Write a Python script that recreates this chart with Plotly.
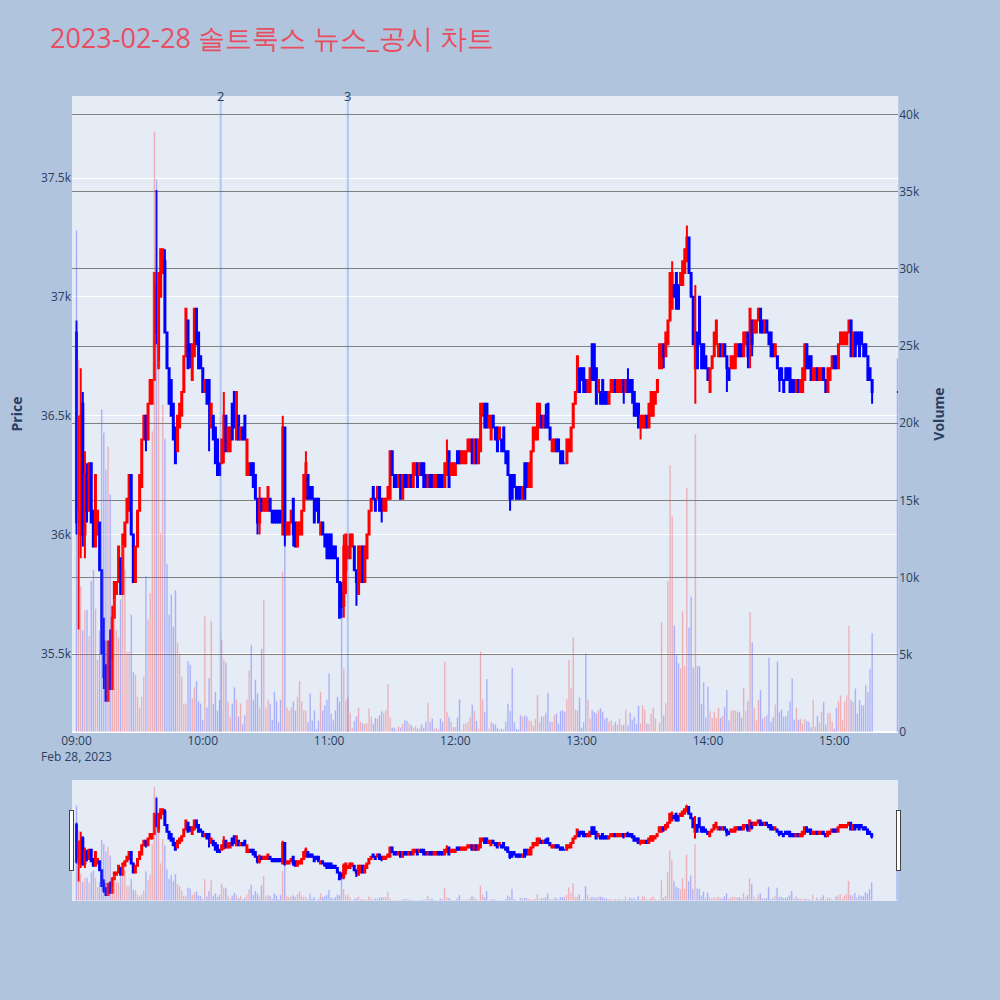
import pandas as pd
import plotly.graph_objects as go
from plotly.subplots import make_subplots

TITLE = "2023-02-28 솔트룩스 뉴스_공시 차트"

open_prices = [
    36850,36050,36000,36550,36000,36250,36100,36300,36100,35950,
    36000,36050,35850,35550,35450,35300,35550,35350,35650,35750,
    35800,35900,35750,35950,36050,36100,36250,36000,35800,35950,
    36100,36200,36400,36500,36400,36550,36550,36650,37050,36700,
    37000,37100,37150,36850,36700,36650,36550,36450,36350,36450,
    36500,36600,36750,36900,36800,36650,36750,36950,36850,36750,
    36700,36600,36650,36650,36450,36500,36450,36400,36300,36300,
    36350,36500,36350,36350,36550,36600,36400,36500,36400,36450,
    36500,36250,36250,36300,36300,36250,36150,36050,36150,36100,
    36100,36100,36150,36100,36100,36100,36100,36100,36000,36450,
    36000,36000,36050,36150,36050,35950,36000,36000,36100,36150,
    36250,36200,36200,36150,36150,36150,36000,36050,36000,36000,
    36000,36000,35950,35950,35900,35800,35750,35700,35850,35900,
    35900,35950,35950,35850,35750,35800,35950,35800,35900,36000,
    36100,36200,36150,36150,36200,36150,36100,36100,36150,36150,
    36350,36250,36250,36200,36250,36150,36250,36250,36200,36250,
    36200,36250,36300,36250,36300,36300,36250,36200,36250,36250,
    36200,36200,36250,36250,36250,36200,36250,36350,36250,36250,
    36250,36350,36350,36300,36300,36300,36350,36350,36400,36300,
    36400,36300,36350,36500,36550,36550,36450,36400,36500,36450,
    36450,36400,36400,36450,36350,36350,36250,36250,36250,36200,
    36200,36200,36150,36300,36300,36200,36200,36350,36400,36400,
    36450,36500,36450,36500,36550,36450,36350,36350,36400,36400,
    36350,36350,36300,36300,36350,36350,36450,36550,36600,36700,
    36700,36700,36650,36600,36600,36800,36800,36700,36600,36600,
    36650,36600,36600,36550,36600,36600,36650,36600,36600,36600,
    36650,36600,36650,36650,36650,36600,36550,36550,36450,36450,
    36450,36500,36450,36500,36500,36550,36600,36700,36700,36800,
    36750,36800,36900,36950,37050,37100,37050,37050,37050,37100,
    37150,37250,37100,37000,36700,36850,37000,36800,36800,36750,
    36700,36600,36700,36750,36800,36750,36800,36750,36800,36750,
    36700,36700,36700,36700,36750,36800,36800,36750,36800,36850,
    36850,36900,36850,36850,36900,36950,36900,36850,36900,36850,
    36850,36800,36750,36750,36700,36700,36650,36700,36700,36700,
    36650,36650,36600,36650,36600,36600,36650,36800,36750,36750,
    36650,36650,36700,36650,36650,36700,36650,36600,36650,36700,
    36750,36750,36700,36800,36800,36800,36800,36850,36900,36750,
    36850,36850,36850,36850,36800,36800,36750,36700,36650,
    36600,
]

high_prices = [
    36900,36500,36700,36600,36350,36300,36300,36300,36100,36250,
    36100,36050,35850,35650,35450,35550,35600,35700,35800,35800,
    35950,35900,36000,36050,36150,36250,36250,36000,35950,36100,
    36250,36400,36500,36500,36550,36650,36650,37100,37450,37100,
    37200,37200,37200,36850,36700,36650,36550,36450,36500,36550,
    36600,36750,36950,36900,36800,36800,36950,36950,36850,36750,
    36700,36650,36650,36650,36550,36500,36450,36400,36300,36400,
    36600,36500,36450,36450,36550,36600,36600,36500,36450,36450,
    36500,36400,36300,36300,36300,36250,36150,36200,36150,36150,
    36150,36200,36150,36100,36100,36100,36100,36100,36500,36450,
    36050,36050,36100,36150,36050,36050,36050,36100,36250,36350,
    36250,36200,36200,36150,36150,36150,36050,36050,36000,36000,
    36000,36000,35950,35950,35900,35800,35800,36000,36000,35950,
    36000,36000,35950,35850,35950,35950,35950,35950,36000,36100,
    36150,36200,36150,36200,36200,36150,36150,36150,36200,36350,
    36350,36250,36250,36250,36250,36250,36250,36250,36250,36250,
    36300,36300,36300,36300,36300,36300,36250,36250,36250,36250,
    36250,36250,36250,36250,36250,36300,36400,36350,36300,36300,
    36300,36350,36350,36350,36350,36350,36400,36400,36400,36400,
    36400,36400,36550,36550,36550,36550,36500,36500,36500,36450,
    36450,36450,36400,36450,36350,36350,36250,36250,36250,36200,
    36200,36200,36200,36300,36300,36300,36350,36450,36450,36550,
    36550,36500,36500,36550,36550,36450,36400,36400,36400,36400,
    36350,36350,36300,36400,36400,36450,36550,36600,36750,36700,
    36700,36700,36650,36650,36700,36800,36800,36700,36650,36600,
    36650,36600,36600,36600,36650,36650,36650,36650,36650,36650,
    36650,36650,36700,36650,36650,36600,36550,36550,36500,36500,
    36500,36500,36550,36600,36600,36600,36650,36800,36800,36800,
    36850,36900,37100,37150,37050,37100,37050,37100,37150,37200,
    37300,37250,37100,37000,37050,36850,37000,36800,36800,36750,
    36700,36700,36750,36850,36900,36800,36800,36800,36800,36750,
    36700,36750,36750,36800,36800,36800,36800,36850,36850,36850,
    36950,36900,36900,36900,36950,36950,36900,36900,36900,36850,
    36850,36800,36800,36750,36700,36700,36650,36700,36700,36700,
    36650,36650,36650,36650,36650,36700,36800,36800,36750,36750,
    36700,36700,36700,36700,36700,36700,36650,36700,36700,36750,
    36750,36750,36800,36850,36850,36850,36850,36900,36900,36850,
    36850,36850,36850,36850,36800,36800,36750,36700,36650,
    36600,
]

low_prices = [
    36000,35600,35900,35950,35900,36050,36100,36050,35950,35950,
    36000,35850,35500,35350,35300,35300,35350,35350,35650,35750,
    35800,35750,35750,35950,36050,36100,36000,35800,35800,35950,
    36100,36200,36400,36350,36400,36550,36550,36650,36800,36700,
    37000,37100,36850,36700,36550,36500,36400,36300,36350,36450,
    36500,36600,36750,36700,36700,36650,36750,36800,36700,36700,
    36600,36600,36550,36350,36450,36400,36300,36250,36250,36300,
    36300,36350,36350,36350,36400,36450,36400,36400,36400,36400,
    36400,36250,36250,36250,36200,36150,36000,36000,36100,36100,
    36100,36100,36100,36050,36050,36050,36050,36050,36000,35950,
    36000,36000,36050,35950,35950,35950,36000,36000,36100,36150,
    36150,36150,36150,36050,36100,36050,36000,36000,35950,35900,
    35900,35900,35900,35900,35800,35650,35650,35650,35750,35900,
    35900,35950,35850,35700,35750,35800,35800,35800,35900,36000,
    36100,36150,36100,36150,36100,36050,36100,36100,36150,36150,
    36250,36200,36200,36200,36150,36150,36200,36200,36200,36200,
    36200,36250,36200,36250,36250,36200,36200,36200,36200,36200,
    36200,36200,36200,36200,36200,36200,36250,36200,36250,36250,
    36250,36300,36300,36300,36300,36300,36350,36350,36300,36300,
    36300,36300,36350,36500,36450,36450,36450,36400,36450,36400,
    36350,36400,36350,36350,36300,36250,36100,36150,36200,36150,
    36150,36150,36150,36150,36200,36200,36200,36350,36400,36400,
    36450,36450,36450,36450,36450,36400,36350,36350,36350,36350,
    36300,36300,36300,36300,36350,36350,36450,36550,36600,36600,
    36650,36600,36600,36600,36600,36650,36650,36550,36600,36550,
    36550,36550,36550,36550,36600,36600,36600,36600,36600,36600,
    36550,36600,36600,36600,36550,36500,36500,36450,36400,36450,
    36450,36450,36450,36500,36500,36550,36600,36700,36700,36700,
    36750,36800,36900,36950,37000,36950,36950,37050,37050,37100,
    37150,37100,37000,36800,36550,36700,36800,36700,36700,36700,
    36650,36600,36700,36750,36800,36750,36750,36750,36750,36600,
    36650,36700,36700,36700,36750,36750,36750,36750,36800,36700,
    36700,36750,36850,36850,36900,36850,36850,36850,36850,36800,
    36750,36750,36750,36700,36600,36650,36600,36650,36650,36600,
    36600,36600,36600,36600,36600,36600,36650,36700,36700,36650,
    36650,36650,36650,36650,36650,36650,36600,36600,36650,36700,
    36700,36700,36700,36800,36800,36800,36800,36850,36750,36750,
    36750,36800,36750,36800,36750,36750,36650,36650,36550,
    36600,
]

close_prices = [
    36050,36100,36500,36000,36250,36100,36300,36050,35950,36250,
    36100,35850,35500,35400,35300,35550,35350,35650,35800,35800,
    35950,35750,36000,36050,36150,36250,36000,35800,35950,36100,
    36250,36400,36500,36400,36550,36650,36650,37100,36850,37100,
    37200,37200,36850,36700,36550,36500,36400,36300,36500,36550,
    36600,36750,36950,36700,36750,36800,36950,36800,36700,36700,
    36600,36650,36550,36550,36550,36400,36300,36250,36250,36400,
    36500,36350,36450,36450,36400,36450,36600,36400,36450,36400,
    36400,36400,36300,36250,36200,36150,36050,36150,36100,36150,
    36150,36200,36100,36050,36050,36050,36050,36050,36450,36000,
    36050,36050,36100,36000,35950,36050,36050,36100,36250,36300,
    36150,36150,36150,36050,36100,36050,36050,36000,35950,35900,
    35900,35900,35900,35900,35800,35650,35700,35950,36000,35950,
    36000,36000,35850,35800,35950,35950,35800,35950,36000,36100,
    36150,36150,36100,36200,36100,36100,36150,36150,36200,36350,
    36250,36200,36200,36250,36150,36250,36200,36200,36250,36200,
    36300,36300,36200,36300,36250,36200,36200,36250,36200,36200,
    36250,36250,36200,36200,36200,36300,36300,36200,36300,36300,
    36300,36300,36300,36350,36350,36350,36400,36400,36300,36400,
    36300,36400,36550,36550,36450,36450,36500,36500,36450,36400,
    36350,36450,36350,36350,36300,36250,36150,36150,36200,36150,
    36150,36150,36200,36150,36200,36300,36350,36450,36450,36550,
    36550,36450,36500,36450,36450,36400,36400,36400,36350,36350,
    36300,36300,36300,36400,36400,36450,36550,36600,36750,36600,
    36650,36600,36600,36650,36700,36650,36650,36550,36650,36550,
    36550,36550,36550,36600,36650,36650,36600,36650,36650,36650,
    36600,36650,36600,36600,36600,36500,36500,36450,36500,36500,
    36500,36450,36550,36600,36600,36600,36650,36800,36800,36750,
    36850,36900,37100,37100,37000,36950,36950,37100,37150,37200,
    37250,37100,37000,36800,36800,36700,36800,36700,36700,36700,
    36650,36700,36750,36850,36900,36800,36750,36800,36750,36700,
    36650,36750,36750,36800,36800,36750,36750,36850,36850,36750,
    36950,36800,36900,36900,36950,36850,36850,36900,36850,36800,
    36750,36750,36800,36700,36650,36650,36600,36650,36650,36600,
    36600,36600,36650,36600,36650,36700,36800,36700,36700,36650,
    36700,36700,36650,36700,36700,36650,36600,36700,36700,36750,
    36700,36700,36800,36850,36850,36850,36850,36900,36750,36850,
    36750,36800,36750,36800,36750,36750,36650,36650,36600,
    36600,
]

volumes = [
    32500,24100,9450,6600,7900,7900,6200,9800,10500,8000,
    4700,6600,20900,19400,17000,18500,15400,4600,8600,6600,
    6100,8600,12100,10500,5200,5200,7600,3900,3700,2300,
    1600,2300,3600,10100,7300,9000,19500,38900,35800,24000,
    12900,21200,19000,10900,7600,8900,6850,9200,5800,5100,
    3600,1850,1850,4600,4350,2200,2900,3300,2000,1850,
    800,7500,1600,3500,7200,1850,2600,1400,2100,6000,
    4700,4500,2000,1000,1850,2900,2100,1000,1850,550,
    1100,2100,4000,5650,2100,3400,2500,1600,5400,8600,
    1600,2100,1850,800,2600,2000,650,2100,10400,12100,
    1600,1400,1600,2000,1400,2300,3300,2000,1400,1400,
    650,2500,760,1400,200,760,2600,1400,1740,2100,
    3800,1200,760,1400,2300,2000,8000,4130,2070,2290,
    1240,290,720,1020,1590,660,550,550,550,1530,
    980,550,920,870,1090,1350,1240,1420,3110,920,
    290,290,110,370,290,550,760,720,550,460,
    290,370,240,240,500,290,680,1890,660,870,
    220,290,160,870,660,4570,1310,980,660,330,
    330,940,2110,110,550,550,660,980,1790,1370,
    720,220,5220,2130,1290,3440,220,660,550,500,
    260,160,220,160,660,1850,1370,4180,660,200,
    160,1090,980,1090,1020,760,720,440,870,2390,
    660,1020,1020,1240,2550,660,660,1090,1200,550,
    1370,1420,1310,2130,4680,2830,6150,1460,1420,2240,
    290,660,5110,2110,870,1420,1310,1200,1420,1530,
    1310,870,940,660,760,440,660,480,870,480,
    480,1460,440,1240,810,980,550,1700,550,1740,
    1480,550,550,1200,1590,870,70,590,7130,1090,
    1890,9780,17300,13980,6910,5000,4460,4130,7830,4280,
    15820,6780,8760,4200,19300,4280,4280,1850,3240,940,
    2940,1350,920,1310,940,1570,920,1050,1630,2720,
    760,1370,1420,1420,1310,1310,940,2870,1370,2020,
    7760,5830,1570,760,2110,2720,870,980,1090,4830,
    660,980,1790,4570,1310,1460,1020,1020,1370,2000,
    3480,810,1590,810,850,550,850,720,660,330,
    2110,370,1070,660,1310,1960,480,1240,1240,700,
    220,1590,2020,2390,810,1960,2370,6890,2070,1960,
    2830,1200,2070,1740,1740,3050,2610,4090,6410,
    24200,
]

session_start = "2023-02-28 09:00"
closing_auction_time = "2023-02-28 15:30"
n_continuous = len(close_prices) - 1
times = list(pd.date_range(session_start, periods=n_continuous, freq="min")) + [pd.Timestamp(closing_auction_time)]

news_times = ["2023-02-28 10:08:30", "2023-02-28 11:08:55"]
news_labels = ["2", "3"]

price_range = [35169, 37845]
volume_range = [0, 41200]
x_range = ["2023-02-28 08:57:52", "2023-02-28 15:30:25"]

bar_colors = ["red" if c > o else "blue" for o, c in zip(open_prices, close_prices)]

fig = make_subplots(specs=[[{"secondary_y": True}]])

fig.add_trace(
    go.Candlestick(
        x=times, open=open_prices, high=high_prices, low=low_prices, close=close_prices,
        increasing=dict(line=dict(color="red"), fillcolor="red"),
        decreasing=dict(line=dict(color="blue"), fillcolor="blue"),
        name="Price", showlegend=False,
    ),
    secondary_y=False,
)

fig.add_trace(
    go.Bar(x=times, y=volumes, marker=dict(color=bar_colors),
           opacity=0.3, name="Volume", showlegend=False),
    secondary_y=True,
)

for t, lab in zip(news_times, news_labels):
    fig.add_shape(type="line", xref="x", yref="paper", x0=t, x1=t, y0=0, y1=1,
                  line=dict(color="royalblue", width=2), opacity=0.3)
    fig.add_annotation(x=t, xref="x", y=1, yref="paper", text=lab, showarrow=False,
                       yanchor="middle", font=dict(size=13, color="#2a3f5f"))

fig.update_layout(
    width=1000, height=1000,
    paper_bgcolor="#B0C4DE",
    plot_bgcolor="#E5ECF6",
    margin=dict(l=72, r=49, t=96, b=100),
    title=dict(text=TITLE, x=0.05, font=dict(size=27, color="#E84E62")),
    showlegend=False,
    bargap=0.2,
)
fig.update_xaxes(type="date", range=x_range, showgrid=False,
                 rangeslider=dict(visible=True))
fig.update_yaxes(title_text="<b>Price</b>", range=price_range, dtick=500,
                 gridcolor="white", secondary_y=False)
fig.update_yaxes(title_text="<b>Volume</b>", range=volume_range, dtick=5000,
                 gridcolor="gray", showgrid=True, secondary_y=True)

fig.write_html("out.html", config={"displayModeBar": False},
               post_script="document.body.style.margin='0';")
